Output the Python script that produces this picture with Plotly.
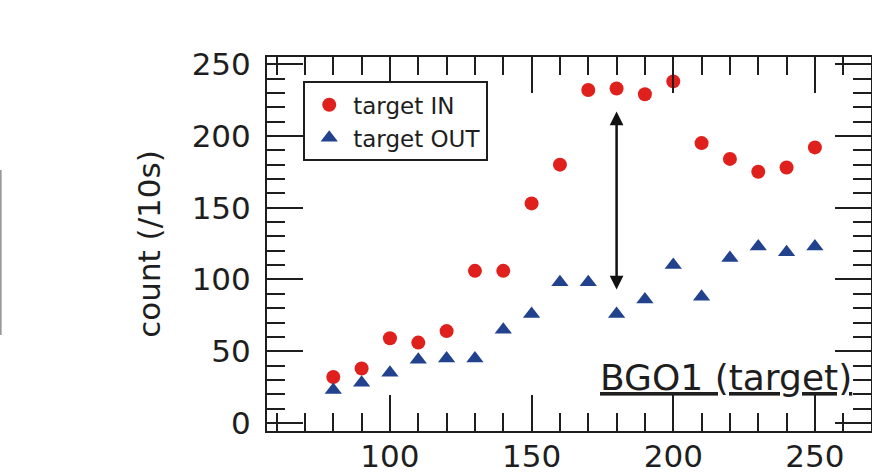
import plotly.graph_objects as go

x_vals = [80, 90, 100, 110, 120, 130, 140, 150, 160, 170, 180, 190, 200, 210, 220, 230, 240, 250]
target_in = [32, 38, 59, 56, 64, 106, 106, 153, 180, 232, 233, 229, 238, 195, 184, 175, 178, 192]
target_out = [23, 28, 35, 44, 45, 45, 65, 76, 98, 98, 76, 86, 110, 88, 115, 123, 119, 123]
arrow_x = 180
arrow_top = 217
arrow_bottom = 92
x_range = [56.6, 269.8]
y_range = [-5.6, 255]

FONT = "DejaVu Sans"
INK = "#1e1e1e"

fig = go.Figure()
fig.add_trace(go.Scatter(x=x_vals, y=target_in, mode="markers", name="target IN",
                         marker=dict(symbol="circle", size=14, color="#e0201c")))
fig.add_trace(go.Scatter(x=x_vals, y=target_out, mode="markers", name="target OUT",
                         marker=dict(symbol="triangle-up", size=15, color="#22428e")))
# empty trace so the minor-tick axes are drawn
fig.add_trace(go.Scatter(x=[], y=[], xaxis="x2", yaxis="y2", showlegend=False, hoverinfo="skip"))

fig.add_annotation(x=arrow_x, y=arrow_top, ax=arrow_x, ay=arrow_bottom,
                   xref="x", yref="y", axref="x", ayref="y", text="",
                   showarrow=True, arrowhead=2, startarrowhead=2, arrowside="end+start",
                   arrowsize=1.1, startarrowsize=1.1, arrowwidth=2.5, arrowcolor="#111")

fig.add_annotation(x=0.972, y=0.143, xref="paper", yref="paper",
                   text="<u>BGO1 (target)</u>", showarrow=False,
                   xanchor="right", yanchor="middle",
                   font=dict(family=FONT, size=36, color=INK))

# screenshot edge artifact
fig.add_shape(type="line", xref="paper", yref="paper",
              x0=-0.441, x1=-0.441, y0=(431 - 170) / 374, y1=(431 - 335) / 374,
              line=dict(color="#999", width=2))

line_common = dict(showline=True, linecolor=INK, linewidth=2, mirror="allticks",
                   ticks="inside", tickwidth=2, tickcolor=INK,
                   showgrid=False, zeroline=False, automargin=False,
                   tickmode="linear", tick0=0)

major = dict(line_common, ticklen=36, dtick=50,
             tickfont=dict(family=FONT, size=31, color=INK))
minor = dict(line_common, ticklen=18, dtick=10, showticklabels=False)

fig.update_layout(
    width=872, height=473,
    margin=dict(l=267, r=1, t=57, b=42),
    paper_bgcolor="white", plot_bgcolor="white",
    showlegend=True,
    xaxis=dict(major, range=x_range, ticklabelstandoff=-3),
    yaxis=dict(major, range=y_range, ticklabelstandoff=8,
               title=dict(text="count (/10s)", font=dict(family=FONT, size=31, color=INK), standoff=22)),
    xaxis2=dict(minor, range=x_range, overlaying="x", anchor="y2", side="bottom"),
    yaxis2=dict(minor, range=y_range, overlaying="y", anchor="x2", side="left"),
    legend=dict(x=0.06, y=0.935, xanchor="left", yanchor="top",
                bordercolor=INK, borderwidth=2, bgcolor="white",
                font=dict(family=FONT, size=23, color=INK),
                tracegroupgap=0, itemsizing="trace", itemwidth=38),
)

fig.write_html("out.html")
